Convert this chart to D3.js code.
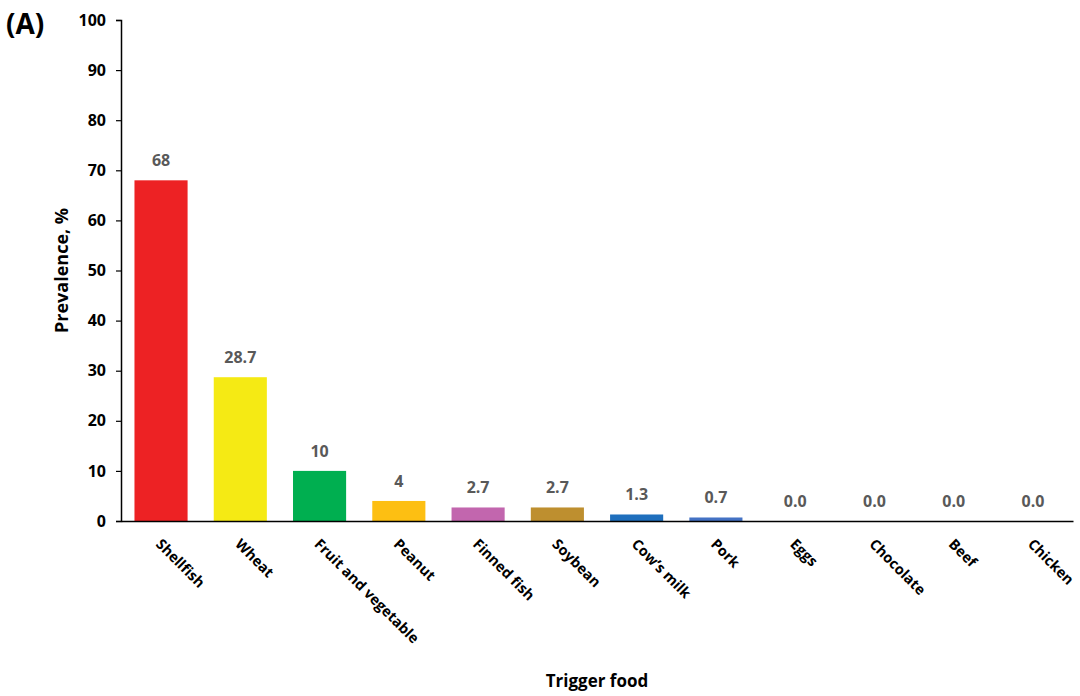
<!DOCTYPE html>
<html>
<head>
<meta charset="utf-8">
<script src="https://cdn.jsdelivr.net/npm/d3@7"></script>
<style>
  body { margin: 0; background: #fff; }
  text { font-family: "Open Sans", "Noto Sans", sans-serif; font-weight: bold; }
</style>
</head>
<body>
<svg width="1080" height="696"></svg>
<script>
// chart data
const foods = ['Shellfish', 'Wheat', 'Fruit and vegetable', 'Peanut', 'Finned fish', 'Soybean',
  "Cow\u2019s milk", 'Pork', 'Eggs', 'Chocolate', 'Beef', 'Chicken'];
const prevalence = [68, 28.7, 10, 4, 2.7, 2.7, 1.3, 0.7, 0, 0, 0, 0];
const valueLabels = ['68', '28.7', '10', '4', '2.7', '2.7', '1.3', '0.7', '0.0', '0.0', '0.0', '0.0'];
const barColors = ['#ED2224', '#F5EA14', '#00AF50', '#FDBF12', '#C266AE', '#BE8F2F',
  '#1F6FBD', '#4472C4', '#999', '#999', '#999', '#999'];
const yTicks = [0, 10, 20, 30, 40, 50, 60, 70, 80, 90, 100];

(function () {
  const svg = d3.select('svg');
  const margin = {top: 20, left: 121, right: 7, bottom: 175};
  const width = Number(svg.attr('width'));
  const height = Number(svg.attr('height'));

  const x = d3.scaleBand()
    .domain(foods)
    .range([margin.left, width - margin.right])
    .paddingInner(0.33)
    .paddingOuter(0.17);

  const y = d3.scaleLinear()
    .domain([0, 100])
    .range([height - margin.bottom, margin.top]);

  // y axis
  const yAxis = svg.append('g')
    .attr('transform', `translate(${margin.left},0)`)
    .call(d3.axisLeft(y).tickValues(yTicks).tickSize(5).tickPadding(10));
  yAxis.select('.domain').attr('stroke', '#000').attr('stroke-width', 1.5);
  yAxis.selectAll('.tick line').attr('stroke', '#000').attr('stroke-width', 1.2);
  yAxis.selectAll('.tick text')
    .attr('fill', '#000')
    .style('font-size', '16px')
    .style('font-family', '"Open Sans", sans-serif')
    .style('font-weight', 'bold');

  // bars
  const data = foods.map((f, i) => ({food: f, v: prevalence[i], label: valueLabels[i], c: barColors[i]}));

  svg.append('g').selectAll('rect')
    .data(data.filter(d => d.v > 0))
    .enter()
    .append('rect')
    .attr('x', d => x(d.food))
    .attr('y', d => y(d.v))
    .attr('width', x.bandwidth())
    .attr('height', d => y(0) - y(d.v))
    .attr('fill', d => d.c);

  // value labels
  svg.append('g').selectAll('text')
    .data(data)
    .enter()
    .append('text')
    .attr('x', d => x(d.food) + x.bandwidth() / 2)
    .attr('y', d => y(d.v) - 14)
    .attr('text-anchor', 'middle')
    .attr('fill', '#595959')
    .style('font-size', '16px')
    .text(d => d.label);

  // x axis line
  const xAxis = svg.append('g')
    .attr('transform', `translate(0,${y(0)})`)
    .call(d3.axisBottom(x).tickSize(0).tickPadding(0));
  xAxis.select('.domain').attr('stroke', '#000').attr('stroke-width', 1.5);
  xAxis.selectAll('.tick text')
    .attr('fill', '#000')
    .attr('text-anchor', 'start')
    .attr('dy', null)
    .attr('transform', 'translate(-6,24) rotate(45)')
    .style('font-size', '14.5px')
    .style('font-family', '"Open Sans", sans-serif')
    .style('font-weight', 'bold');

  // axis titles
  svg.append('text')
    .attr('transform', `translate(68,${(y(0) + y(100)) / 2}) rotate(-90)`)
    .attr('text-anchor', 'middle')
    .style('font-size', '18px')
    .text('Prevalence, %');

  svg.append('text')
    .attr('x', 597)
    .attr('y', 687)
    .attr('text-anchor', 'middle')
    .style('font-size', '17px')
    .text('Trigger food');

  // panel letter
  svg.append('text')
    .attr('x', 6)
    .attr('y', 34)
    .style('font-size', '28px')
    .text('(A)');
})();
</script>
</body>
</html>
